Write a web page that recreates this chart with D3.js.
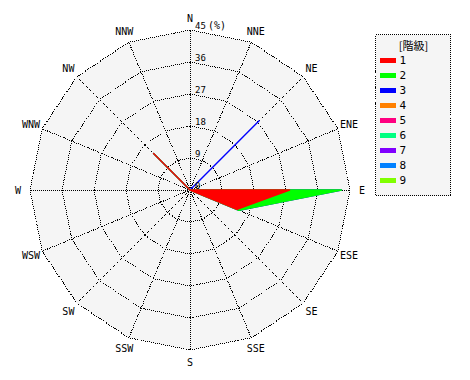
<!DOCTYPE html>
<html><head><meta charset="utf-8">
<script src="https://cdn.jsdelivr.net/npm/d3@7"></script>
<style>
html,body{margin:0;padding:0;background:#fff;}
svg{display:block;}
text{font-family:"DejaVu Sans Mono",monospace;fill:#000;}
</style></head>
<body><svg id="chart" width="470" height="380"></svg>
<script>
const directions = ["N","NNE","NE","ENE","E","ESE","SE","SSE","S","SSW","SW","WSW","W","WNW","NW","NNW"];
const classes = ["1","2","3","4","5","6","7","8","9"];
const classColors = ["#ff0000","#00ff00","#0000ff","#ff8000","#ff0080","#00ff80","#8000ff","#0080ff","#80ff00"];
// frequency (%) per class, per direction (N..NNW)
const class1 = [0,0,0,0,28,14.3,0,0,0,0,0,0,0,0,14.5,0];
const class2 = [0,0,0,0,14.6,0.6,0,0,0,0,0,0,0,0,0,0];
const class3 = [0,0,27.5,0,0,0,0,0,0,0,0,0,0,0,0,0];
const class4 = [0,0,0,0,0,0,0,0,0,0,0,0,0,0,0,0];
const class5 = [0,0,0,0,0,0,0,0,0,0,0,0,0,0,0,0];
const class6 = [0,0,0,0,0,0,0,0,0,0,0,0,0,0,0,0];
const class7 = [0,0,0,0,0,0,0,0,0,0,0,0,0,0,0,0];
const class8 = [0,0,0,0,0,0,0,0,0,0,0,0,0,0,0,0];
const class9 = [0,0,0,0,0,0,0,0,0,0,0,0,0,0,0,0];
const ticks = [0,9,18,27,36,45];
const unitLabel = "(%)";
const legendTitle = "[階級]";

const series = [class1,class2,class3,class4,class5,class6,class7,class8,class9];
const svg = d3.select("#chart");
const cx = 190, cy = 190, R = 160;
const r = d3.scaleLinear().domain([0,45]).range([0,R]);
const ang = d3.scaleLinear().domain([0,directions.length]).range([0,2*Math.PI]);
const g = svg.append("g").attr("transform",`translate(${cx},${cy})`);

const ring = d3.lineRadial().angle((d,i)=>ang(i)).radius(d=>r(d)).curve(d3.curveLinearClosed);

// background
g.append("path").attr("d", ring(directions.map(()=>45))).attr("fill","#f5f5f5").attr("stroke","none");

// grid rings
ticks.filter(t=>t>0).forEach(t=>{
  g.append("path").attr("d", ring(directions.map(()=>t)))
   .attr("fill","none").attr("stroke","#000").attr("stroke-width",1)
   .attr("stroke-dasharray","1,1").attr("shape-rendering","crispEdges");
});
// spokes
directions.forEach((d,i)=>{
  const a = ang(i);
  g.append("line").attr("x1",0).attr("y1",0)
   .attr("x2", r(45)*Math.sin(a)).attr("y2", -r(45)*Math.cos(a))
   .attr("stroke","#000").attr("stroke-width",1).attr("stroke-dasharray","1,1")
   .attr("shape-rendering","crispEdges");
});

// cumulative data polygons (drawn on top of grid); classes with no data add nothing
const cum = [];
series.forEach((s,k)=>{ cum.push(s.map((v,i)=> v + (k>0?cum[k-1][i]:0))); });
for(let k=series.length-1;k>=0;k--){
  if (d3.max(series[k]) <= 0) continue;
  g.append("path").attr("d", ring(cum[k]))
    .attr("fill", classColors[k]).attr("stroke", classColors[k]).attr("stroke-width",1.4)
    .attr("stroke-linejoin","round");
}

// direction labels
directions.forEach((d,i)=>{
  const a = ang(i), lr = R + 12;
  g.append("text").attr("x", lr*Math.sin(a)).attr("y", -lr*Math.cos(a))
   .attr("text-anchor","middle").attr("dominant-baseline","central")
   .attr("font-size","10px").text(d);
});
// tick labels
ticks.forEach(t=>{
  g.append("text").attr("x",5).attr("y",-r(t)-1).attr("font-size","9px").text(t);
});
g.append("text").attr("x",18).attr("y",-r(45)-1).attr("font-size","10px").text(unitLabel);

// legend
const lg = svg.append("g").attr("transform","translate(375.5,34.5)");
lg.append("rect").attr("width",75).attr("height",161).attr("fill","#f5f5f5")
  .attr("stroke","#000").attr("stroke-dasharray","1,1").attr("shape-rendering","crispEdges");
lg.append("text").attr("x",38).attr("y",10).attr("text-anchor","middle")
  .attr("dominant-baseline","central").attr("font-size","11px")
  .style("font-family","'Noto Sans CJK JP',sans-serif").text(legendTitle);
classes.forEach((c,i)=>{
  lg.append("rect").attr("x",4.5).attr("y",23.5+i*15).attr("width",16).attr("height",5)
    .attr("fill",classColors[i]);
  lg.append("text").attr("x",24).attr("y",26+i*15).attr("dominant-baseline","central")
    .attr("font-size","11px").text(c);
});
</script></body></html>
